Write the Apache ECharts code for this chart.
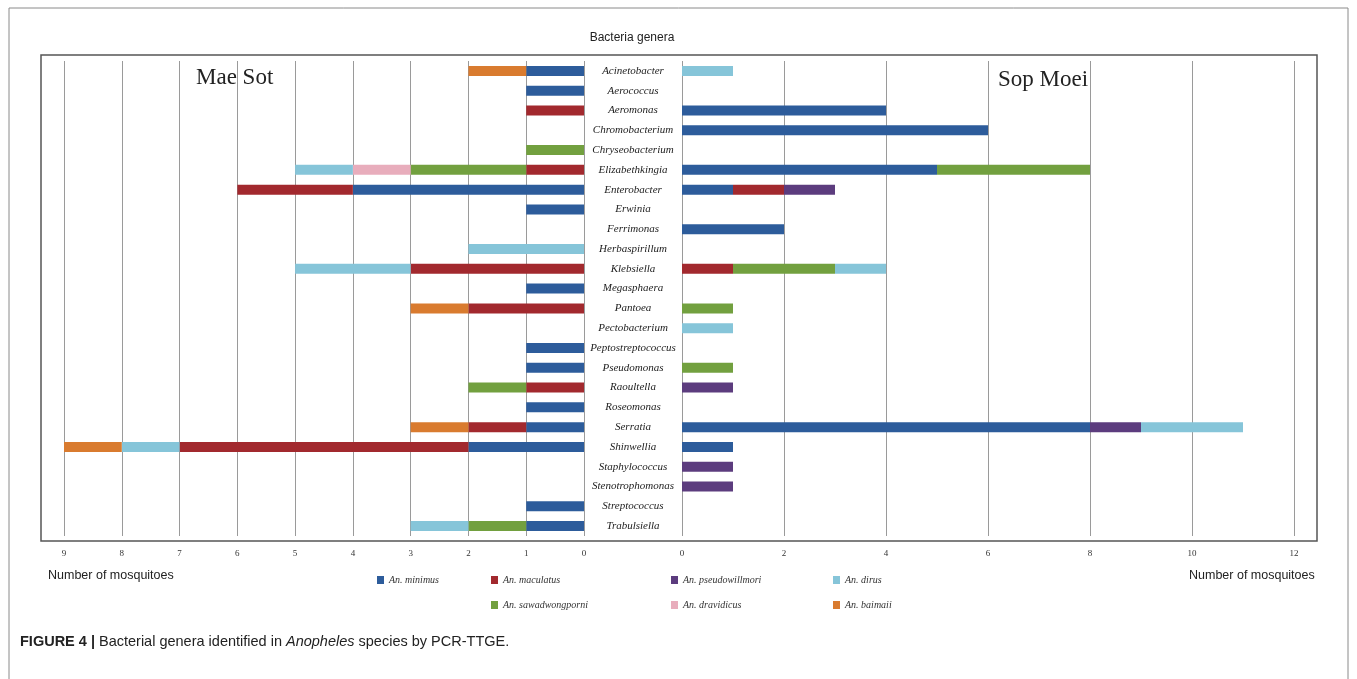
<!DOCTYPE html>
<html>
<head>
<meta charset="utf-8">
<title>Bacterial genera in Anopheles</title>
<script src="https://cdn.jsdelivr.net/npm/echarts@6/dist/echarts.min.js"></script>
<style>
  html, body { margin: 0; padding: 0; background: #fff; }
  #chart { width: 1357px; height: 679px; }
</style>
</head>
<body>
<div id="chart"></div>
<script>
// bacteria genera, top to bottom
const genera = ['Acinetobacter', 'Aerococcus', 'Aeromonas', 'Chromobacterium', 'Chryseobacterium',
  'Elizabethkingia', 'Enterobacter', 'Erwinia', 'Ferrimonas', 'Herbaspirillum', 'Klebsiella',
  'Megasphaera', 'Pantoea', 'Pectobacterium', 'Peptostreptococcus', 'Pseudomonas', 'Raoultella',
  'Roseomonas', 'Serratia', 'Shinwellia', 'Staphylococcus', 'Stenotrophomonas', 'Streptococcus',
  'Trabulsiella']

const species = ['An. minimus', 'An. maculatus', 'An. pseudowillmori', 'An. sawadwongporni',
  'An. dravidicus', 'An. dirus', 'An. baimaii']
const colors = ['#2d5c9b', '#a2292e', '#5c3c7e', '#72a03f', '#e8adbc', '#86c5d9', '#d97b2f']

// Mae Sot (left panel), one value per genus
const maeMinimus = [1, 1, 0, 0, 0, 0, 4, 1, 0, 0, 0, 1, 0, 0, 1, 1, 0, 1, 1, 2, 0, 0, 1, 1]
const maeMaculatus = [0, 0, 1, 0, 0, 1, 2, 0, 0, 0, 3, 0, 2, 0, 0, 0, 1, 0, 1, 5, 0, 0, 0, 0]
const maePseudowillmori = [0, 0, 0, 0, 0, 0, 0, 0, 0, 0, 0, 0, 0, 0, 0, 0, 0, 0, 0, 0, 0, 0, 0, 0]
const maeSawadwongporni = [0, 0, 0, 0, 1, 2, 0, 0, 0, 0, 0, 0, 0, 0, 0, 0, 1, 0, 0, 0, 0, 0, 0, 1]
const maeDravidicus = [0, 0, 0, 0, 0, 1, 0, 0, 0, 0, 0, 0, 0, 0, 0, 0, 0, 0, 0, 0, 0, 0, 0, 0]
const maeDirus = [0, 0, 0, 0, 0, 1, 0, 0, 0, 2, 2, 0, 0, 0, 0, 0, 0, 0, 0, 1, 0, 0, 0, 1]
const maeBaimaii = [1, 0, 0, 0, 0, 0, 0, 0, 0, 0, 0, 0, 1, 0, 0, 0, 0, 0, 1, 1, 0, 0, 0, 0]

// Sop Moei (right panel)
const sopMinimus = [0, 0, 4, 6, 0, 5, 1, 0, 2, 0, 0, 0, 0, 0, 0, 0, 0, 0, 8, 1, 0, 0, 0, 0]
const sopMaculatus = [0, 0, 0, 0, 0, 0, 1, 0, 0, 0, 1, 0, 0, 0, 0, 0, 0, 0, 0, 0, 0, 0, 0, 0]
const sopPseudowillmori = [0, 0, 0, 0, 0, 0, 1, 0, 0, 0, 0, 0, 0, 0, 0, 0, 1, 0, 1, 0, 1, 1, 0, 0]
const sopSawadwongporni = [0, 0, 0, 0, 0, 3, 0, 0, 0, 0, 2, 0, 1, 0, 0, 1, 0, 0, 0, 0, 0, 0, 0, 0]
const sopDravidicus = [0, 0, 0, 0, 0, 0, 0, 0, 0, 0, 0, 0, 0, 0, 0, 0, 0, 0, 0, 0, 0, 0, 0, 0]
const sopDirus = [1, 0, 0, 0, 0, 0, 0, 0, 0, 0, 1, 0, 0, 1, 0, 0, 0, 0, 2, 0, 0, 0, 0, 0]
const sopBaimaii = [0, 0, 0, 0, 0, 0, 0, 0, 0, 0, 0, 0, 0, 0, 0, 0, 0, 0, 0, 0, 0, 0, 0, 0]

const maeData = [maeMinimus, maeMaculatus, maePseudowillmori, maeSawadwongporni, maeDravidicus, maeDirus, maeBaimaii]
const sopData = [sopMinimus, sopMaculatus, sopPseudowillmori, sopSawadwongporni, sopDravidicus, sopDirus, sopBaimaii]

const serif = 'Liberation Serif'
const sans = 'Liberation Sans'

const series = []
species.forEach((name, i) => {
  series.push({
    name: name, type: 'bar', stack: 'mae', xAxisIndex: 0, yAxisIndex: 0,
    barWidth: 10, itemStyle: { color: colors[i] }, silent: true, data: maeData[i]
  })
  series.push({
    name: name, type: 'bar', stack: 'sop', xAxisIndex: 1, yAxisIndex: 1,
    barWidth: 10, itemStyle: { color: colors[i] }, silent: true, data: sopData[i]
  })
})

// legend laid out in columns like the original (two rows), same order as species
const legendPos = [[372, 570], [486, 570], [666, 570], [486, 595], [666, 595], [828, 570], [828, 595]]
const legends = species.map((name, i) => ({
  data: [name],
  left: legendPos[i][0],
  top: legendPos[i][1],
  itemWidth: 7,
  itemHeight: 8,
  itemGap: 4,
  icon: 'rect',
  selectedMode: false,
  textStyle: { fontFamily: serif, fontStyle: 'italic', fontSize: 10, color: '#333' }
}))

const gridLine = { show: true, lineStyle: { color: '#9a9a9a', width: 1 } }
const tickLabel = { fontFamily: serif, fontSize: 9, color: '#333', margin: 13 }

const option = {
  backgroundColor: '#fff',
  animation: false,
  legend: legends,
  grid: [
    { left: 64, right: 1357 - 584, top: 61, height: 475 },
    { left: 682, right: 1357 - 1294, top: 61, height: 475 }
  ],
  xAxis: [
    {
      gridIndex: 0, type: 'value', inverse: true, min: 0, max: 9, interval: 1,
      axisLine: { show: false }, axisTick: { show: false },
      splitLine: gridLine, axisLabel: tickLabel
    },
    {
      gridIndex: 1, type: 'value', min: 0, max: 12, interval: 2,
      axisLine: { show: false }, axisTick: { show: false },
      splitLine: gridLine, axisLabel: tickLabel
    }
  ],
  yAxis: [
    {
      gridIndex: 0, type: 'category', data: genera, inverse: true, position: 'right',
      axisLine: { show: false }, axisTick: { show: false },
      axisLabel: {
        align: 'center', margin: 49, fontFamily: serif, fontStyle: 'italic',
        fontSize: 11, color: '#222', interval: 0
      }
    },
    {
      gridIndex: 1, type: 'category', data: genera, inverse: true,
      axisLine: { show: false }, axisTick: { show: false }, axisLabel: { show: false }
    }
  ],
  graphic: [
    {
      type: 'rect', silent: true, z: -1,
      shape: { x: 9, y: 8, width: 1339, height: 690 },
      style: { fill: null, stroke: '#8a8a8a', lineWidth: 1 }
    },
    {
      type: 'rect', silent: true, z: -1,
      shape: { x: 41, y: 55, width: 1276, height: 486 },
      style: { fill: null, stroke: '#555', lineWidth: 1.5 }
    },
    {
      type: 'text', x: 632, y: 38,
      style: { text: 'Bacteria genera', font: '12px ' + sans, fill: '#222', align: 'center', verticalAlign: 'middle' }
    },
    {
      type: 'text', left: 196, top: 66,
      style: { text: 'Mae Sot', font: '23px ' + serif, fill: '#222' }
    },
    {
      type: 'text', left: 998, top: 68,
      style: { text: 'Sop Moei', font: '23px ' + serif, fill: '#222' }
    },
    {
      type: 'text', left: 48, top: 569,
      style: { text: 'Number of mosquitoes', font: '12.5px ' + sans, fill: '#222' }
    },
    {
      type: 'text', left: 1189, top: 569,
      style: { text: 'Number of mosquitoes', font: '12.5px ' + sans, fill: '#222' }
    },
    {
      type: 'text', left: 20, top: 634,
      style: {
        text: '{b|FIGURE 4 | }{r|Bacterial genera identified in }{i|Anopheles}{r| species by PCR-TTGE.}',
        rich: {
          b: { fontFamily: sans, fontWeight: 'bold', fontSize: 14.5, fill: '#222' },
          r: { fontFamily: sans, fontSize: 14.5, fill: '#222' },
          i: { fontFamily: sans, fontStyle: 'italic', fontSize: 14.5, fill: '#222' }
        }
      }
    }
  ],
  series: series
}

const myChart = echarts.init(document.getElementById('chart'))
myChart.setOption(option)
</script>
</body>
</html>
